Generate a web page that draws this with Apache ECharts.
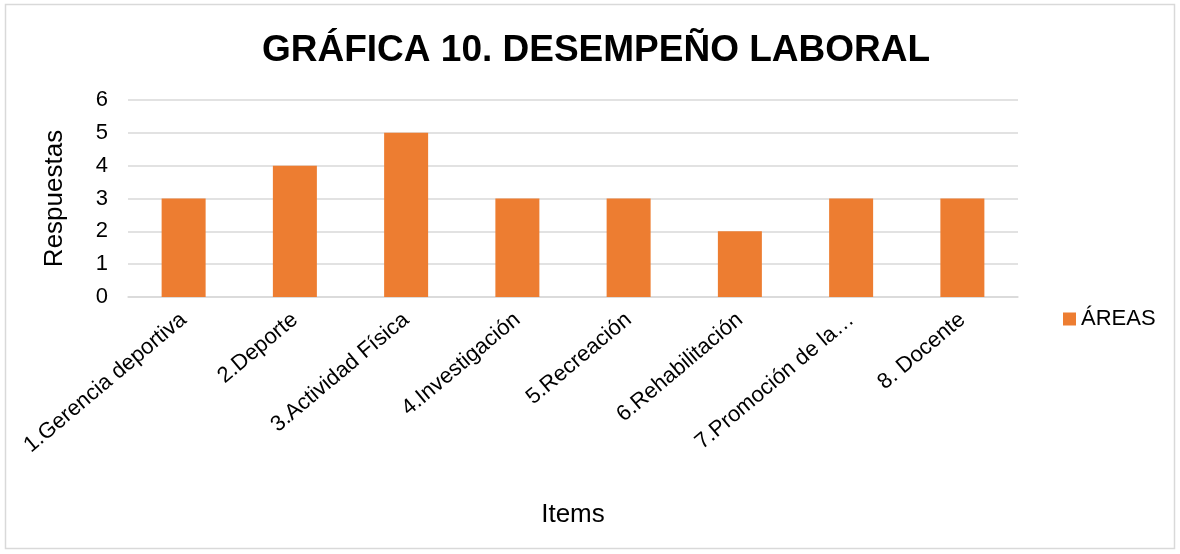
<!DOCTYPE html>
<html><head><meta charset="utf-8">
<script src="https://cdn.jsdelivr.net/npm/echarts@6/dist/echarts.min.js"></script>
<style>html,body{margin:0;padding:0;background:#fff}#c{width:1180px;height:554px}</style>
</head><body><div id="c"></div>
<script>
const categories = ['1.Gerencia deportiva','2.Deporte','3.Actividad Física','4.Investigación','5.Recreación','6.Rehabilitación','7.Promoción de la…','8. Docente'];
const areas = [3,4,5,3,3,2,3,3];
const seriesName = 'ÁREAS';
const titleText = 'GRÁFICA 10. DESEMPEÑO LABORAL';
const font = '"Liberation Sans", Arial, sans-serif';
const chart = echarts.init(document.getElementById('c'), null, {renderer:'canvas'});
chart.setOption({
  animation:false,
  backgroundColor:'#fff',
  graphic:[{type:'rect',shape:{x:5.5,y:4.5,width:1169,height:544},style:{fill:'none',stroke:'#D9D9D9',lineWidth:1.5},silent:true,z:-1}],
  title:{text:titleText,left:257,top:27,textStyle:{fontFamily:font,fontWeight:'bold',fontSize:37,color:'#000'}},
  legend:{data:[seriesName],left:1058,top:303,itemWidth:13,itemHeight:13,itemGap:5,icon:'rect',textStyle:{fontFamily:font,fontSize:22,color:'#000'}},
  grid:{left:128,right:162,top:100,bottom:257},
  xAxis:{type:'category',data:categories,name:'Items',nameLocation:'middle',nameGap:205,
    nameTextStyle:{fontFamily:font,fontSize:26,color:'#000'},
    axisLine:{lineStyle:{color:'#D9D9D9',width:1.5}},axisTick:{show:false},
    axisLabel:{rotate:40,interval:0,margin:20,fontFamily:font,fontSize:22,color:'#000'}},
  yAxis:{type:'value',min:0,max:6,interval:1,name:'Respuestas',nameLocation:'middle',nameRotate:90,nameGap:60,
    nameTextStyle:{fontFamily:font,fontSize:26,color:'#000'},
    axisLine:{show:false},axisTick:{show:false},
    splitLine:{lineStyle:{color:'#D9D9D9',width:1.5}},
    axisLabel:{margin:20,fontFamily:font,fontSize:22,color:'#000'}},
  series:[{name:seriesName,type:'bar',data:areas,barWidth:44,itemStyle:{color:'#ED7D31'}}]
});
</script></body></html>
